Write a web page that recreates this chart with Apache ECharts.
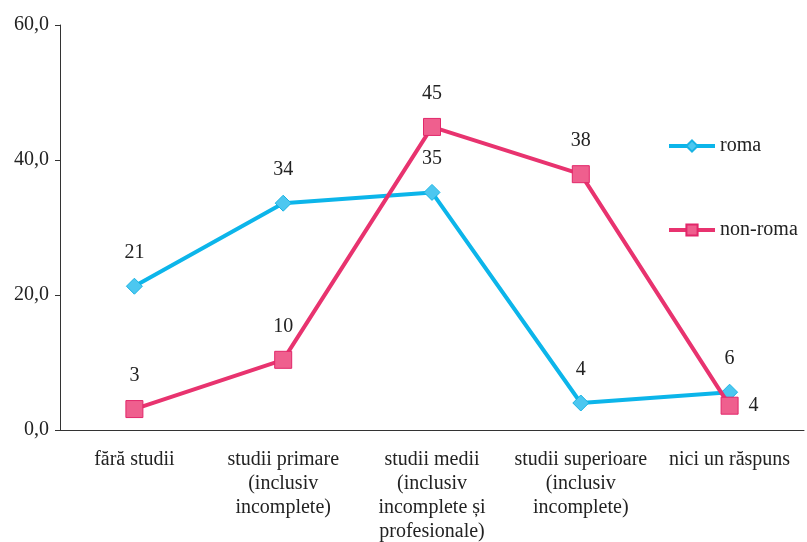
<!DOCTYPE html>
<html style="height: 100%">
<head>
    <meta charset="utf-8">
    <script src="https://cdn.jsdelivr.net/npm/echarts@6/dist/echarts.min.js"></script>
</head>
<body style="height: 100%; margin: 0; background: #fff">
    <div id="main" style="width: 807px;height:542px;"></div>
    <script type="text/javascript">
        var categories = [
            'fără studii',
            'studii primare\n(inclusiv\nincomplete)',
            'studii medii\n(inclusiv\nincomplete și\nprofesionale)',
            'studii superioare\n(inclusiv\nincomplete)',
            'nici un răspuns'
        ];
        var roma = [21.3, 33.6, 35.2, 4.0, 5.6];
        var nonRoma = [3.1, 10.4, 44.9, 37.9, 3.6];
        var romaLabels = ['21', '34', '35', '4', '6'];
        var nonRomaLabels = ['3', '10', '45', '38', '4'];

        var font = 'Liberation Serif';
        var axisColor = '#333';

        var myChart = echarts.init(document.getElementById('main'));
        myChart.setOption({
            animation: false,
            textStyle: { fontFamily: font },
            grid: { left: 60, right: 3, top: 25, bottom: 112, outerBoundsMode: 'none', containLabel: false },
            legend: {
                orient: 'vertical',
                left: 662,
                top: 131,
                itemGap: 64,
                itemWidth: 46,
                itemHeight: 14,
                lineStyle: { width: 4 },
                textStyle: { fontFamily: font, fontSize: 20, color: '#222' },
                data: ['roma', 'non-roma']
            },
            xAxis: {
                type: 'category',
                data: categories,
                axisLine: { lineStyle: { color: axisColor, width: 1 } },
                axisTick: { length: 5, lineStyle: { color: axisColor } },
                axisLabel: {
                    interval: 0,
                    margin: 18,
                    fontFamily: font,
                    fontSize: 20,
                    lineHeight: 24,
                    color: '#222',
                    align: 'center'
                }
            },
            yAxis: {
                type: 'value',
                min: 0,
                max: 60,
                interval: 20,
                splitLine: { show: false },
                axisLine: { show: true, lineStyle: { color: axisColor, width: 1 } },
                axisTick: { show: true, length: 5, lineStyle: { color: axisColor } },
                axisLabel: {
                    margin: 11,
                    fontFamily: font,
                    fontSize: 20,
                    color: '#222',
                    formatter: function (v) { return v.toFixed(1).replace('.', ','); }
                }
            },
            series: [{
                name: 'roma',
                type: 'line',
                data: roma,
                symbol: 'diamond',
                symbolSize: 16,
                lineStyle: { color: '#0cb5ea', width: 4 },
                itemStyle: { color: '#4cc7f0', borderColor: '#19b3e3', borderWidth: 1 },
                label: {
                    show: true,
                    position: 'top',
                    distance: 15,
                    fontFamily: font,
                    fontSize: 20,
                    color: '#222',
                    formatter: function (p) { return romaLabels[p.dataIndex]; }
                },
                z: 3
            }, {
                name: 'non-roma',
                type: 'line',
                data: nonRoma.map(function (v, i) {
                    if (i === 4) {
                        return { value: v, label: { position: 'right', distance: 10 } };
                    }
                    return v;
                }),
                symbol: 'rect',
                symbolSize: 17,
                lineStyle: { color: '#e8336f', width: 4 },
                itemStyle: { color: '#ef5f8e', borderColor: '#e2276a', borderWidth: 1 },
                label: {
                    show: true,
                    position: 'top',
                    distance: 14,
                    fontFamily: font,
                    fontSize: 20,
                    color: '#222',
                    formatter: function (p) { return nonRomaLabels[p.dataIndex]; }
                },
                z: 4
            }]
        });
    </script>
</body>
</html>
